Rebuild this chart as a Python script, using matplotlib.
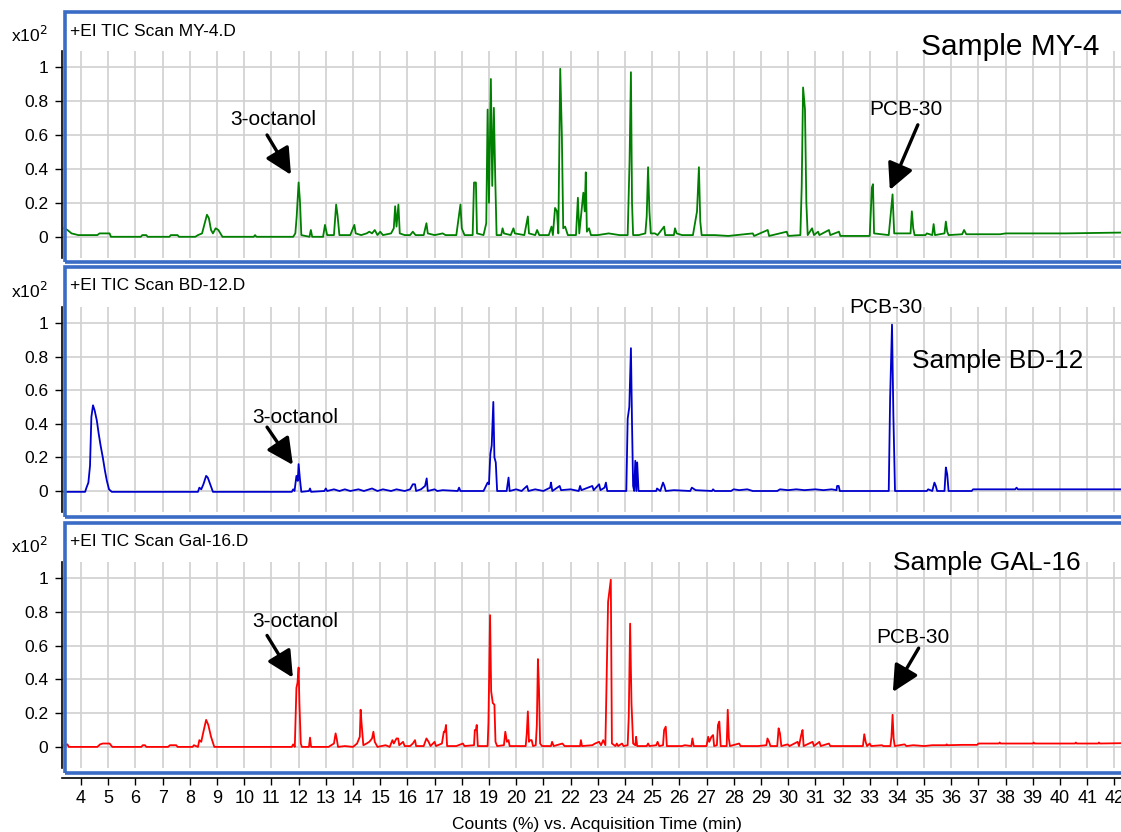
import matplotlib
matplotlib.use("Agg")
import matplotlib.pyplot as plt
from matplotlib.patches import Rectangle

plt.rcParams['font.family'] = ['Liberation Sans', 'DejaVu Sans']

#====================================================================================================
# chromatogram traces: (time [min], counts [x10^2 %])

my4_trace = [
    (3.38, 0.05), (3.5, 0.04), (3.65, 0.02), (3.9, 0.01), (4.6, 0.01), (4.68, 0.02), (5.05, 0.02), (5.1, 0.0),
    (6.2, 0.0), (6.25, 0.01), (6.4, 0.01), (6.45, 0.0), (7.25, 0.0), (7.3, 0.01), (7.55, 0.01), (7.6, 0.0),
    (8.2, 0.0), (8.3, 0.01), (8.45, 0.02), (8.55, 0.08), (8.63, 0.13), (8.7, 0.11), (8.78, 0.04), (8.85, 0.02),
    (8.95, 0.05), (9.05, 0.04), (9.2, 0.0),
    (10.35, 0.0), (10.4, 0.01), (10.45, 0.0), (11.8, 0.0), (11.88, 0.02), (11.93, 0.12), (12.0, 0.32),
    (12.05, 0.21), (12.1, 0.01), (12.4, 0.0), (12.45, 0.04), (12.5, 0.0),
    (12.9, 0.0), (12.97, 0.07), (13.05, 0.01), (13.3, 0.01), (13.38, 0.19), (13.43, 0.13), (13.5, 0.01),
    (13.9, 0.01), (14.05, 0.07), (14.1, 0.02), (14.3, 0.01), (14.5, 0.02), (14.6, 0.03), (14.7, 0.02),
    (14.8, 0.04), (14.9, 0.01), (15.0, 0.03), (15.1, 0.01),
    (15.4, 0.02), (15.5, 0.05), (15.55, 0.18), (15.6, 0.06), (15.67, 0.19), (15.72, 0.02), (15.9, 0.01),
    (16.1, 0.01), (16.2, 0.03), (16.3, 0.01),
    (16.6, 0.01), (16.7, 0.08), (16.75, 0.02), (17.0, 0.01), (17.3, 0.02), (17.4, 0.01), (17.8, 0.01),
    (17.95, 0.19), (18.0, 0.05), (18.1, 0.01), (18.4, 0.01), (18.45, 0.32), (18.52, 0.32), (18.56, 0.02),
    (18.8, 0.01), (18.9, 0.08),
    (18.95, 0.75), (19.0, 0.2), (19.07, 0.93), (19.12, 0.3), (19.18, 0.76), (19.23, 0.35), (19.28, 0.01),
    (19.45, 0.01), (19.5, 0.05), (19.55, 0.02), (19.8, 0.01), (19.9, 0.05), (19.95, 0.02), (20.3, 0.01),
    (20.43, 0.12), (20.47, 0.02), (20.7, 0.01), (20.77, 0.04), (20.85, 0.01), (21.2, 0.01), (21.3, 0.06),
    (21.35, 0.01),
    (21.43, 0.17), (21.5, 0.15), (21.55, 0.02), (21.62, 0.99), (21.68, 0.6), (21.73, 0.05), (21.8, 0.06),
    (21.9, 0.01),
    (22.2, 0.01), (22.27, 0.23), (22.32, 0.02), (22.47, 0.26), (22.52, 0.15), (22.56, 0.38), (22.6, 0.03),
    (22.68, 0.05), (22.75, 0.01), (23.0, 0.01), (23.4, 0.02), (23.8, 0.01), (24.1, 0.01),
    (24.17, 0.45), (24.22, 0.97), (24.26, 0.2), (24.3, 0.01), (24.5, 0.01), (24.75, 0.02), (24.8, 0.12),
    (24.85, 0.41), (24.9, 0.15), (24.95, 0.02), (25.1, 0.02), (25.2, 0.01), (25.44, 0.06), (25.48, 0.01),
    (25.8, 0.01), (25.84, 0.05), (25.9, 0.02), (26.1, 0.01), (26.5, 0.01),
    (26.65, 0.15), (26.72, 0.41), (26.77, 0.09), (26.82, 0.01), (27.3, 0.01), (27.8, 0.005), (28.7, 0.02),
    (28.75, 0.005), (29.25, 0.04), (29.3, 0.005), (29.95, 0.03), (30.0, 0.005),
    (30.45, 0.01), (30.5, 0.3), (30.55, 0.88), (30.62, 0.75), (30.67, 0.2), (30.72, 0.01), (30.88, 0.05),
    (30.95, 0.01), (31.1, 0.03), (31.15, 0.01), (31.5, 0.04), (31.55, 0.01), (31.87, 0.03), (31.92, 0.005),
    (32.5, 0.005), (33.0, 0.005),
    (33.08, 0.29), (33.12, 0.31), (33.16, 0.02), (33.7, 0.01), (33.76, 0.11), (33.84, 0.25), (33.9, 0.02),
    (34.5, 0.02), (34.55, 0.15), (34.6, 0.05), (34.65, 0.01), (35.05, 0.01), (35.1, 0.02), (35.3, 0.01),
    (35.35, 0.075), (35.4, 0.01), (35.75, 0.02), (35.8, 0.09), (35.85, 0.03), (35.9, 0.01), (36.4, 0.015),
    (36.47, 0.04), (36.55, 0.015),
    (37.8, 0.015), (38.0, 0.02), (40.2, 0.02), (42.3, 0.025),
]

bd12_trace = [
    (3.38, -0.005), (4.15, -0.005), (4.2, 0.02), (4.27, 0.05), (4.33, 0.15), (4.38, 0.44), (4.44, 0.51),
    (4.5, 0.48), (4.58, 0.42), (4.65, 0.34), (4.72, 0.27), (4.8, 0.2), (4.88, 0.12), (4.95, 0.06),
    (5.03, 0.01), (5.13, -0.005),
    (8.3, -0.005), (8.35, 0.02), (8.42, 0.01), (8.5, 0.04), (8.6, 0.09), (8.66, 0.08), (8.75, 0.04),
    (8.85, -0.005),
    (11.75, -0.005), (11.8, 0.01), (11.85, 0.0), (11.92, 0.09), (11.97, 0.06), (12.0, 0.16), (12.05, 0.07),
    (12.1, -0.005), (12.38, 0.0), (12.42, 0.015), (12.46, -0.005),
    (12.95, 0.0), (13.0, 0.015), (13.05, 0.0), (13.3, 0.01), (13.5, 0.0), (13.7, 0.01), (13.9, 0.0),
    (14.2, 0.01), (14.4, 0.0), (14.7, 0.015), (14.9, 0.0), (15.1, 0.01), (15.4, 0.0), (15.6, 0.01),
    (15.9, 0.0), (16.1, 0.01),
    (16.2, 0.04), (16.28, 0.04), (16.32, 0.0), (16.5, 0.01), (16.65, 0.03), (16.71, 0.075), (16.75, 0.0),
    (17.0, 0.01), (17.1, 0.0), (17.3, 0.005), (17.85, 0.0), (17.9, 0.02), (17.95, 0.0), (18.3, 0.0),
    (18.8, 0.0),
    (18.95, 0.05), (19.0, 0.04), (19.05, 0.22), (19.1, 0.27), (19.16, 0.53), (19.2, 0.2), (19.25, 0.17),
    (19.3, 0.0), (19.65, 0.0), (19.72, 0.08), (19.76, 0.0), (20.0, 0.01), (20.2, 0.0), (20.4, 0.03),
    (20.45, 0.0), (20.7, 0.01), (21.0, 0.0),
    (21.25, 0.02), (21.28, 0.05), (21.33, 0.0), (21.6, 0.03), (21.65, 0.005), (22.0, 0.01), (22.3, 0.0),
    (22.35, 0.03), (22.4, 0.005), (22.8, 0.03), (22.85, 0.005), (23.05, 0.04), (23.1, 0.005), (23.25, 0.02),
    (23.3, 0.05), (23.35, 0.0),
    (24.05, 0.0), (24.1, 0.43), (24.16, 0.5), (24.22, 0.85), (24.26, 0.4), (24.3, 0.03), (24.34, 0.0),
    (24.38, 0.18), (24.42, 0.0), (24.45, 0.17), (24.5, 0.0),
    (25.15, 0.0), (25.18, 0.015), (25.3, 0.0), (25.4, 0.05), (25.45, 0.03), (25.5, 0.0), (25.8, 0.005),
    (26.4, 0.0), (26.46, 0.02), (26.6, 0.005), (27.2, 0.0), (27.24, 0.01), (27.3, 0.0), (27.9, 0.0),
    (28.0, 0.01), (28.2, 0.005), (28.5, 0.01), (28.7, 0.0),
    (29.6, 0.0), (29.7, 0.01), (30.0, 0.005), (30.3, 0.01), (30.6, 0.005), (31.0, 0.01), (31.3, 0.005),
    (31.6, 0.01), (31.78, 0.005), (31.8, 0.03), (31.86, 0.03), (31.9, 0.0),
    (33.7, 0.0), (33.75, 0.55), (33.82, 0.99), (33.87, 0.45), (33.93, 0.0), (35.1, 0.0), (35.15, 0.01),
    (35.3, 0.0), (35.38, 0.05), (35.43, 0.03), (35.48, 0.0), (35.75, 0.0), (35.8, 0.14), (35.85, 0.1),
    (35.9, 0.0),
    (36.75, 0.0), (36.8, 0.01), (38.35, 0.01), (38.4, 0.02), (38.45, 0.01), (42.3, 0.01),
]

gal16_trace = [
    (3.38, 0.01), (3.5, 0.015), (3.55, 0.0), (4.6, 0.0), (4.7, 0.015), (4.8, 0.02), (5.05, 0.02), (5.15, 0.0),
    (6.22, 0.0), (6.27, 0.01), (6.35, 0.01), (6.4, 0.0), (7.2, 0.0), (7.27, 0.01), (7.5, 0.01), (7.55, 0.0),
    (8.1, 0.0), (8.15, 0.01), (8.3, 0.0), (8.35, 0.04), (8.42, 0.03), (8.5, 0.09), (8.6, 0.16), (8.68, 0.13),
    (8.78, 0.06), (8.9, 0.0),
    (11.75, 0.0), (11.8, 0.015), (11.86, 0.0), (11.92, 0.35), (11.96, 0.38), (12.0, 0.47), (12.03, 0.26),
    (12.08, 0.02), (12.12, 0.0), (12.38, 0.0), (12.42, 0.055), (12.46, 0.0),
    (13.1, 0.0), (13.2, 0.01), (13.3, 0.02), (13.36, 0.08), (13.4, 0.05), (13.45, 0.0), (13.7, 0.005),
    (14.0, 0.0), (14.15, 0.02), (14.25, 0.06), (14.28, 0.22), (14.32, 0.13), (14.38, 0.01), (14.5, 0.02),
    (14.6, 0.03), (14.7, 0.05), (14.75, 0.09), (14.8, 0.03), (14.9, 0.0), (15.2, 0.01), (15.35, 0.0),
    (15.45, 0.04), (15.5, 0.02), (15.6, 0.05), (15.66, 0.05), (15.7, 0.01), (15.84, 0.03), (15.9, 0.005),
    (16.1, 0.005), (16.2, 0.02), (16.28, 0.04), (16.32, 0.005), (16.6, 0.005), (16.7, 0.05), (16.78, 0.03),
    (16.85, 0.005), (17.0, 0.03), (17.05, 0.005), (17.27, 0.02), (17.34, 0.09), (17.38, 0.09), (17.42, 0.13),
    (17.46, 0.005),
    (17.8, 0.005), (18.04, 0.02), (18.1, 0.005), (18.45, 0.01), (18.48, 0.1), (18.52, 0.1), (18.55, 0.13),
    (18.59, 0.005),
    (18.95, 0.005), (18.98, 0.14), (19.04, 0.78), (19.08, 0.33), (19.14, 0.26), (19.2, 0.25), (19.24, 0.03),
    (19.3, 0.005), (19.55, 0.01), (19.6, 0.09), (19.66, 0.03), (19.72, 0.04), (19.76, 0.005),
    (20.35, 0.005), (20.39, 0.08), (20.43, 0.21), (20.47, 0.03), (20.52, 0.04), (20.57, 0.04), (20.62, 0.005),
    (20.72, 0.01), (20.76, 0.13), (20.8, 0.52), (20.84, 0.34), (20.88, 0.02), (20.95, 0.005),
    (21.28, 0.005), (21.32, 0.03), (21.38, 0.005), (21.7, 0.02), (21.78, 0.005), (22.35, 0.005), (22.38, 0.04),
    (22.42, 0.005), (22.8, 0.01), (22.9, 0.02), (23.05, 0.03), (23.12, 0.01), (23.2, 0.04), (23.28, 0.01),
    (23.38, 0.86), (23.48, 0.99), (23.52, 0.02), (23.65, 0.005), (23.7, 0.02), (23.75, 0.005), (23.89, 0.02),
    (23.95, 0.005), (24.1, 0.01), (24.14, 0.18), (24.19, 0.73), (24.24, 0.26), (24.3, 0.02), (24.38, 0.01),
    (24.41, 0.06), (24.45, 0.005),
    (24.8, 0.005), (24.85, 0.02), (24.9, 0.005), (25.15, 0.01), (25.2, 0.03), (25.26, 0.005), (25.4, 0.01),
    (25.44, 0.1), (25.5, 0.12), (25.54, 0.005), (26.1, 0.005), (26.2, 0.01), (26.44, 0.005), (26.48, 0.05),
    (26.53, 0.005),
    (27.0, 0.005), (27.06, 0.06), (27.1, 0.03), (27.18, 0.06), (27.24, 0.07), (27.28, 0.005), (27.38, 0.01),
    (27.42, 0.13), (27.47, 0.15), (27.52, 0.005), (27.74, 0.005), (27.78, 0.22), (27.82, 0.05), (27.86, 0.005),
    (28.2, 0.02), (28.25, 0.005),
    (28.9, 0.005), (29.2, 0.01), (29.24, 0.05), (29.3, 0.03), (29.35, 0.005), (29.6, 0.005), (29.65, 0.11),
    (29.7, 0.08), (29.75, 0.005), (29.98, 0.015), (30.05, 0.005), (30.35, 0.03), (30.4, 0.005), (30.48, 0.07),
    (30.53, 0.1), (30.57, 0.005), (30.9, 0.03), (30.95, 0.005), (31.15, 0.03), (31.2, 0.005), (31.5, 0.02),
    (31.55, 0.005),
    (32.75, 0.005), (32.8, 0.075), (32.85, 0.03), (32.9, 0.005), (33.0, 0.02), (33.05, 0.005), (33.45, 0.01),
    (33.5, 0.005), (33.76, 0.005), (33.8, 0.06), (33.84, 0.19), (33.88, 0.05), (33.92, 0.005), (34.28, 0.015),
    (34.35, 0.005), (34.6, 0.01), (35.0, 0.005), (35.3, 0.01), (35.8, 0.01), (35.83, 0.015), (35.87, 0.01),
    (36.4, 0.012), (36.95, 0.012), (37.0, 0.02), (37.75, 0.02), (37.78, 0.026), (37.81, 0.02), (39.0, 0.02),
    (39.03, 0.026), (39.06, 0.02), (40.55, 0.02), (40.58, 0.026), (40.61, 0.02), (41.4, 0.02), (41.43, 0.026),
    (41.46, 0.02), (42.3, 0.022),
]

panel_titles  = ["+EI TIC Scan MY-4.D", "+EI TIC Scan BD-12.D", "+EI TIC Scan Gal-16.D"]
sample_names  = ["Sample MY-4", "Sample BD-12", "Sample GAL-16"]
line_colors   = ["#008000", "#0000cd", "#ff0000"]

x_ticks = list(range(4, 43))
y_ticks = [0, 0.2, 0.4, 0.6, 0.8, 1]
y_tick_labels = ["0", "0.2", "0.4", "0.6", "0.8", "1"]

# annotations: (text, text x, text y, arrow tail, arrow head) per panel, arrow None = plain label
annotations = [
    [("3-octanol", 11.06, 0.66, (10.84, 0.60), (11.72, 0.365)),
     ("PCB-30", 34.33, 0.72, (34.77, 0.66), (33.74, 0.276))],
    [("3-octanol", 11.87, 0.405, (10.84, 0.38), (11.79, 0.155)),
     ("PCB-30", 33.6, 1.06, None, None)],
    [("3-octanol", 11.87, 0.71, (10.84, 0.66), (11.79, 0.41)),
     ("PCB-30", 34.57, 0.615, (34.8, 0.585), (33.85, 0.325))],
]
sample_label_pos = [(38.15, 1.07, 21.5), (37.7, 0.73, 19), (37.3, 1.05, 19)]

#====================================================================================================

W, H = 1121, 832
FRAME_BLUE = "#3a6cc6"

def px(x, y):
    # pixel (from top-left) -> figure fraction
    return x / W, 1 - y / H

def main():
    fig = plt.figure(figsize=(W / 100, H / 100), dpi=100)

    traces = [my4_trace, bd12_trace, gal16_trace]
    axes_top = [51, 307, 562]
    axes_bot = [258, 512, 768]
    frame_top = [12, 267, 523]
    frame_bot = [262, 517, 773]

    for i, trace in enumerate(traces):
        left, bottom = px(62, axes_bot[i])
        width = (W - 62) / W
        height = (axes_bot[i] - axes_top[i]) / H
        ax = fig.add_axes([left, bottom, width, height])

        t = [p[0] for p in trace]
        c = [p[1] for p in trace]
        ax.plot(t, c, color=line_colors[i], lw=1.3, zorder=3)

        ax.set_xlim(3.30, 42.24)
        ax.set_ylim(-0.125, 1.095)
        ax.set_xticks(x_ticks)
        ax.set_yticks(y_ticks)
        ax.set_yticklabels(y_tick_labels, fontsize=12.5)
        ax.grid(True, color="#d0d0d0", lw=1.2, zorder=0)
        ax.set_axisbelow(True)

        for side in ["top", "right", "bottom"]:
            ax.spines[side].set_visible(False)
        ax.spines["left"].set_color("black")
        ax.spines["left"].set_linewidth(1.2)
        ax.tick_params(axis="y", direction="out", length=5, width=1.0, pad=5)

        if i == 2:
            ax.spines["bottom"].set_visible(True)
            ax.spines["bottom"].set_position(("outward", 7))
            ax.spines["bottom"].set_linewidth(1.2)
            ax.tick_params(axis="x", direction="out", length=5, width=1.0, pad=4, labelsize=13)
        else:
            ax.tick_params(axis="x", length=0, labelbottom=False)

        # panel texts
        fig.text(*px(11, axes_top[i] - 16), r"x10$^2$", fontsize=12.5, ha="left", va="center")
        fig.text(*px(70, frame_top[i] + 19), panel_titles[i], fontsize=12.5, ha="left", va="center")

        sx, sy, sfs = sample_label_pos[i]
        ax.text(sx, sy, sample_names[i], fontsize=sfs, ha="center", va="baseline")

        for label, tx, ty, tail, head in annotations[i]:
            ax.text(tx, ty, label, fontsize=15, ha="center", va="baseline")
            if tail is not None:
                ax.annotate("", xy=head, xytext=tail,
                            arrowprops=dict(arrowstyle="-|>,head_length=0.8,head_width=0.4",
                                            lw=2.4, color="black", mutation_scale=20,
                                            shrinkA=0, shrinkB=0))

        # blue frame round each chromatogram
        fx, fy = px(65, frame_bot[i])
        fw = (W + 10 - 65) / W
        fh = (frame_bot[i] - frame_top[i]) / H
        fig.add_artist(Rectangle((fx, fy), fw, fh, transform=fig.transFigure, fill=False,
                                 edgecolor=FRAME_BLUE, lw=2.6, zorder=5, clip_on=False))

    fig.text(*px(597, 829), "Counts (%) vs. Acquisition Time (min)", fontsize=12.5,
             ha="center", va="baseline")

    fig.savefig("out.png", dpi=100)

#====================================================================================================

if __name__ == "__main__":
    main()
